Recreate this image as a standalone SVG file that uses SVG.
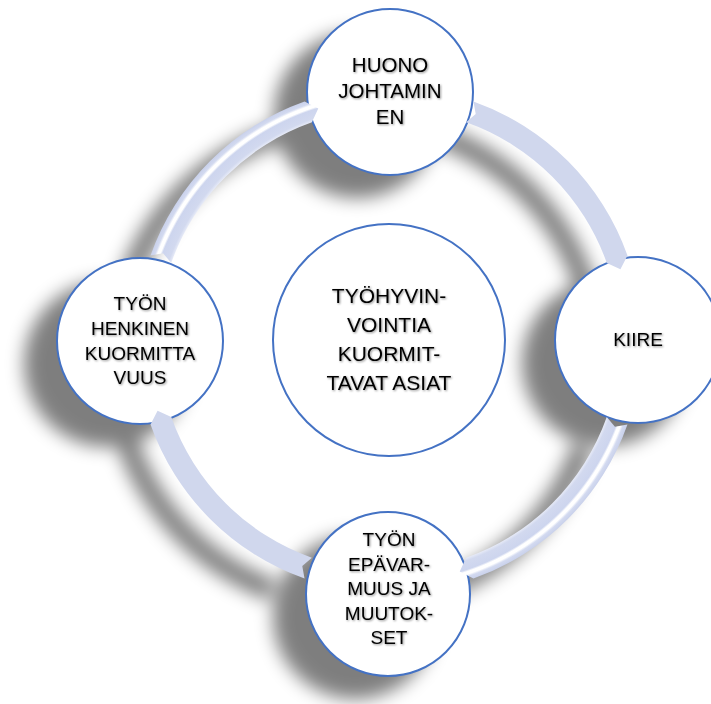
<svg xmlns="http://www.w3.org/2000/svg" width="711" height="704" viewBox="0 0 711 704">
  <defs>
    <style>
      .node { fill: #ffffff; stroke: #4472C4; stroke-width: 2; }
      .t { font-family: "Liberation Sans", Arial, sans-serif; fill: #000000; text-anchor: middle; filter: url(#ts); }
      .solid { fill: #D0D7ED; }
      .tube { fill: url(#tubeGrad); }
      .sh { fill: #000000; }
    </style>
    <radialGradient id="tubeGrad" gradientUnits="userSpaceOnUse" cx="389" cy="340" r="253">
      <stop offset="0.913" stop-color="#E6EAF7"/>
      <stop offset="0.925" stop-color="#D2D9EF"/>
      <stop offset="0.958" stop-color="#CDD5EE"/>
      <stop offset="0.966" stop-color="#FFFFFF"/>
      <stop offset="0.976" stop-color="#FFFFFF"/>
      <stop offset="0.985" stop-color="#D3DAF0"/>
      <stop offset="1" stop-color="#C9D1EB"/>
    </radialGradient>
    <filter id="blur" x="-30%" y="-30%" width="160%" height="160%">
      <feGaussianBlur stdDeviation="9"/>
    </filter>
    <filter id="ts" x="-10%" y="-30%" width="120%" height="160%">
      <feGaussianBlur in="SourceAlpha" stdDeviation="1"/>
      <feOffset dx="1" dy="1" result="o"/>
      <feFlood flood-color="#000000" flood-opacity="0.45"/>
      <feComposite in2="o" operator="in" result="s"/>
      <feMerge><feMergeNode in="s"/><feMergeNode in="SourceGraphic"/></feMerge>
    </filter>
    <path id="arcTR" d="M 473.45 101.51 A 253 253 0 0 1 627.49 255.55 L 620.42 269.25 L 606.75 262.89 A 231 231 0 0 0 466.11 122.25 L 475.73 114.07 Z"/>
    <path id="arcBR" d="M 627.49 424.45 A 253 253 0 0 1 473.45 578.49 L 459.75 571.42 L 466.11 557.75 A 231 231 0 0 0 606.75 417.11 L 614.93 426.73 Z"/>
    <path id="arcBL" d="M 304.55 578.49 A 253 253 0 0 1 150.51 424.45 L 157.58 410.75 L 171.25 417.11 A 231 231 0 0 0 311.89 557.75 L 302.27 565.93 Z"/>
    <path id="arcTL" d="M 150.51 255.55 A 253 253 0 0 1 304.55 101.51 L 318.25 108.58 L 311.89 122.25 A 231 231 0 0 0 171.25 262.89 L 163.07 253.27 Z"/>
  </defs>

  <rect x="0" y="0" width="711" height="704" fill="#ffffff"/>

  <!-- soft shadows -->
  <g id="shadows" opacity="0.5" filter="url(#blur)">
    <g transform="translate(-33,23)" class="sh">
      <use href="#arcTR"/>
      <use href="#arcBR"/>
      <use href="#arcBL"/>
      <use href="#arcTL"/>
      <circle cx="390" cy="92" r="83"/>
      <circle cx="638" cy="340" r="83"/>
      <circle cx="388" cy="594" r="82"/>
      <circle cx="140" cy="341" r="83"/>
    </g>
  </g>

  <g id="node-center">
    <circle class="node" cx="389" cy="340" r="116"/>
    <text class="t" font-size="21" x="389" y="303">TYÖHYVIN-</text>
    <text class="t" font-size="21" x="389" y="332">VOINTIA</text>
    <text class="t" font-size="21" x="389" y="361">KUORMIT-</text>
    <text class="t" font-size="21" x="389" y="389.5">TAVAT ASIAT</text>
  </g>

  <g id="node-top">
    <circle class="node" cx="390" cy="92" r="83"/>
    <text class="t" font-size="20.5" x="390" y="72">HUONO</text>
    <text class="t" font-size="20.5" x="390" y="97.5">JOHTAMIN</text>
    <text class="t" font-size="20.5" x="390" y="124">EN</text>
  </g>

  <g id="node-right">
    <circle class="node" cx="638" cy="340" r="83"/>
    <text class="t" font-size="19" x="638" y="346">KIIRE</text>
  </g>

  <g id="node-bottom">
    <circle class="node" cx="388" cy="594" r="82"/>
    <text class="t" font-size="19" x="389" y="546">TYÖN</text>
    <text class="t" font-size="19" x="389" y="570.5">EPÄVAR-</text>
    <text class="t" font-size="19" x="389" y="595">MUUS JA</text>
    <text class="t" font-size="19" x="389" y="619.5">MUUTOK-</text>
    <text class="t" font-size="19" x="389" y="644">SET</text>
  </g>

  <g id="node-left">
    <circle class="node" cx="140" cy="341" r="83"/>
    <text class="t" font-size="19" x="140" y="310">TYÖN</text>
    <text class="t" font-size="19" x="140" y="335">HENKINEN</text>
    <text class="t" font-size="19" x="140" y="359.5">KUORMITTA</text>
    <text class="t" font-size="19" x="140" y="384">VUUS</text>
  </g>

  <g id="connectors">
    <use href="#arcTR" class="solid"/>
    <use href="#arcBR" class="tube"/>
    <use href="#arcBL" class="solid"/>
    <use href="#arcTL" class="tube"/>
  </g>
</svg>
